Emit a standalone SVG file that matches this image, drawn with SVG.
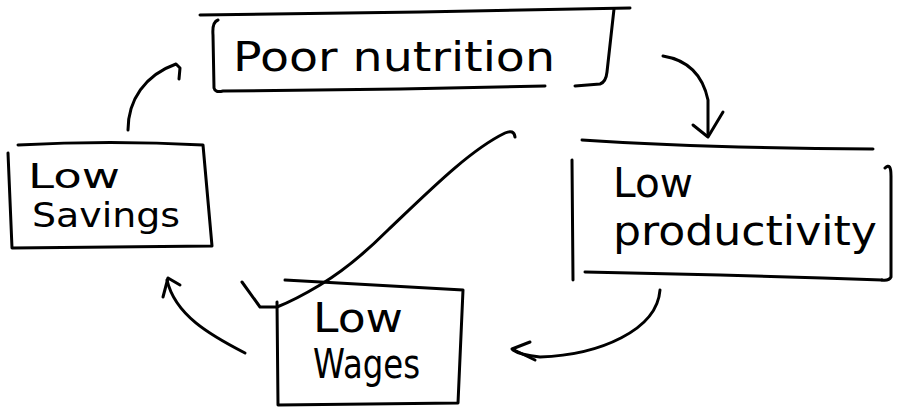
<svg xmlns="http://www.w3.org/2000/svg" width="899" height="413" viewBox="0 0 899 413">
<style>
.ln{fill:none;stroke:#000;stroke-width:3;stroke-linecap:round;stroke-linejoin:round}
.tx{font-family:"DejaVu Sans","Liberation Sans",sans-serif;font-size:40px;fill:#000}
.sm{font-size:34px}
</style>
<rect width="899" height="413" fill="#fff"/>
<g id="poor-nutrition">
<path class="ln" d="M200,15 L420,12 L630,8"/>
<path class="ln" d="M218,20 Q212,22 213,35 L214,88 Q215,93 223,91 L400,89 L545,86"/>
<path class="ln" d="M575,86 L600,84 Q606,82 607,72 L614,9"/>
<text class="tx" x="233" y="71" textLength="322" lengthAdjust="spacingAndGlyphs">Poor nutrition</text>
</g>
<g id="low-productivity">
<path class="ln" d="M582,140 Q700,148 873,149"/>
<path class="ln" d="M572,160 L573,280"/>
<path class="ln" d="M885,168 Q891,162 891,176 L891,277 Q889,281 882,280"/>
<path class="ln" d="M585,272 Q740,275 882,280"/>
<text class="tx" x="613" y="197" textLength="80" lengthAdjust="spacingAndGlyphs">Low</text>
<text class="tx" x="613" y="245" textLength="264" lengthAdjust="spacingAndGlyphs">productivity</text>
</g>
<g id="low-savings">
<path class="ln" d="M18,145 Q110,140 203,145 L212,246 L12,248 L8,153"/>
<text class="tx sm" x="28" y="188" textLength="92" lengthAdjust="spacingAndGlyphs">Low</text>
<text class="tx sm" x="32" y="227" textLength="148" lengthAdjust="spacingAndGlyphs">Savings</text>
</g>
<g id="low-wages">
<path class="ln" d="M285,280 L463,290 L458,403 L278,405 L277,302"/>
<text class="tx" x="313" y="332" textLength="90" lengthAdjust="spacingAndGlyphs">Low</text>
<text class="tx" x="313" y="378" textLength="107" lengthAdjust="spacingAndGlyphs">Wages</text>
</g>
<g id="connectors">
<path class="ln" d="M663,56 Q700,62 708,100 L708,135"/>
<path class="ln" d="M693,125 L708,137 L723,112"/>
<path class="ln" d="M660,290 C657,330 600,355 540,357 Q520,355 513,350"/>
<path class="ln" d="M530,342 L512,349 L535,360"/>
<path class="ln" d="M245,353 C210,335 175,315 167,280"/>
<path class="ln" d="M163,297 L168,278 L180,285"/>
<path class="ln" d="M128,130 C128,100 145,75 176,64 L180,68 L179,79"/>
<path class="ln" d="M515,137 Q514,129 505,133 C470,150 430,190 388,230 C360,258 340,273 320,285 Q295,300 277,307 L260,307 L242,282"/>
</g>
</svg>
